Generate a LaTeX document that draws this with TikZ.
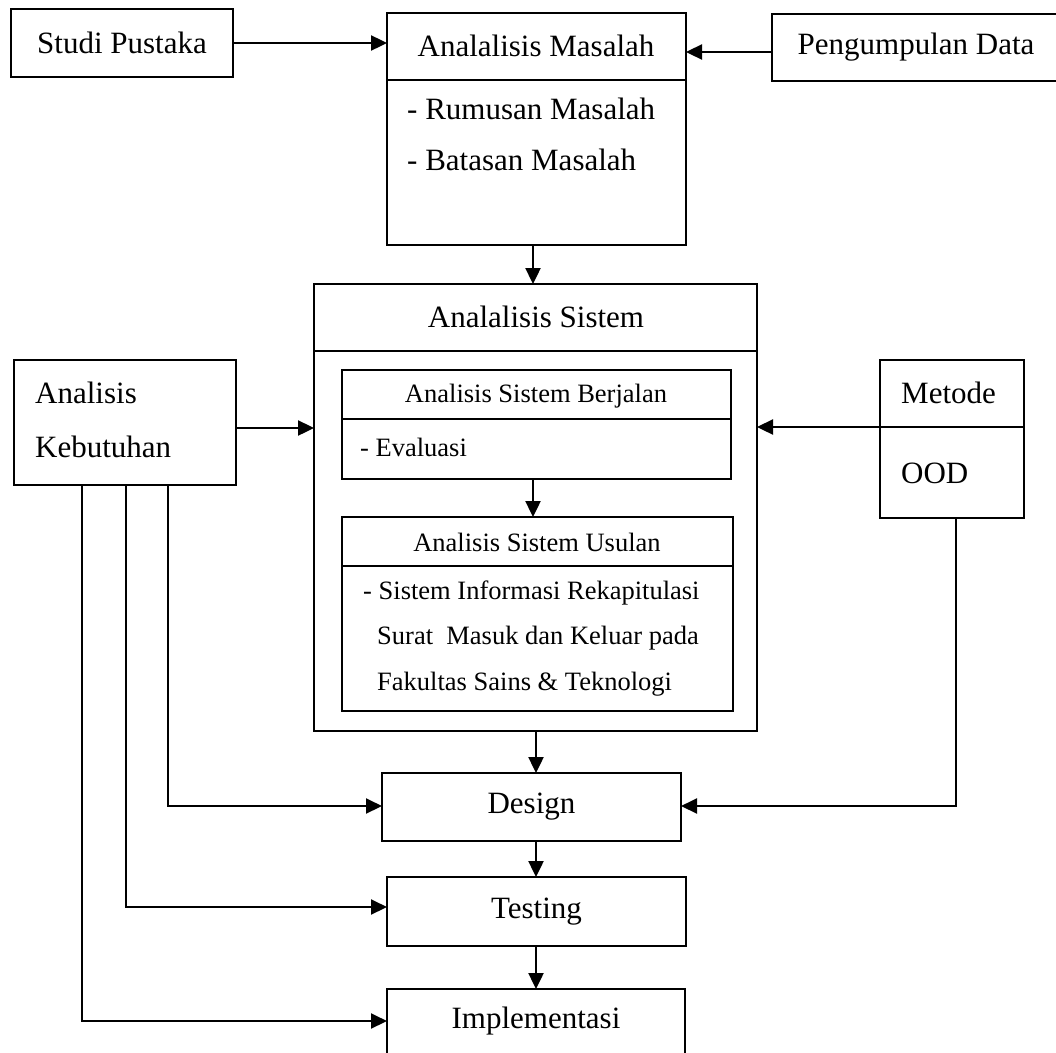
\documentclass[tikz,border=0pt]{standalone}
\usepackage{fontspec}
\setmainfont{Liberation Serif}
\usetikzlibrary{arrows.meta}
\begin{document}
\begin{tikzpicture}[x=1pt,y=-1pt,
  box/.style={draw, line width=2pt, anchor=north west, inner sep=0pt, outer sep=0pt},
  bigtxt/.style={font=\fontsize{31}{37}\selectfont, inner sep=0pt},
  smalltxt/.style={font=\fontsize{26.5}{32}\selectfont, inner sep=0pt},
  divider/.style={line width=2pt},
  arr/.style={line width=2.4pt, -{Triangle[length=16pt,width=15pt]}},
  feed/.style={line width=2pt, -{Triangle[length=16pt,width=15pt]}}]
\useasboundingbox (0,0) rectangle (1056,1052);
\fill[white] (0,0) rectangle (1056,1052);

% top row
\node[box, minimum width=222pt, minimum height=68pt] (studi) at (11,9) {};
\node[bigtxt] (studit) at (studi.center) {Studi Pustaka};

\node[box, minimum width=299pt, minimum height=232pt] (masalah) at (387,13) {};
\draw[divider] (387,80) -- (686,80);
\node[bigtxt] (masalaht) at (536,46) {Analalisis Masalah};
\node[bigtxt, anchor=west] (rumusan) at (407,109) {- Rumusan Masalah};
\node[bigtxt, anchor=west] (batasan) at (407,160) {- Batasan Masalah};

\node[box, minimum width=300pt, minimum height=67pt] (peng) at (772,14) {};
\node[bigtxt] (pengt) at (916,47) {Pengumpulan Data};

% sistem
\node[box, minimum width=443pt, minimum height=447pt] (sistem) at (314,284) {};
\draw[divider] (314,351) -- (757,351);
\node[bigtxt] (sistemt) at (536,317) {Analalisis Sistem};

\node[box, minimum width=389pt, minimum height=109pt] (berjalan) at (342,370) {};
\draw[divider] (342,419) -- (731,419);
\node[smalltxt] (berjalant) at (536,396) {Analisis Sistem Berjalan};
\node[smalltxt, anchor=west] (evaluasi) at (360,447) {- Evaluasi};

\node[box, minimum width=391pt, minimum height=194pt] (usulan) at (342,517) {};
\draw[divider] (342,566) -- (733,566);
\node[smalltxt] (usulant) at (537,542) {Analisis Sistem Usulan};
\node[smalltxt, anchor=west] (u1) at (363,593) {- Sistem Informasi Rekapitulasi};
\node[smalltxt, anchor=west] (u2) at (377,638) {Surat~ Masuk dan Keluar pada};
\node[smalltxt, anchor=west] (u3) at (377,684) {Fakultas Sains \& Teknologi};

% side boxes
\node[box, minimum width=222pt, minimum height=125pt] (keb) at (14,360) {};
\node[bigtxt, anchor=west] (kebt1) at (35,393) {Analisis};
\node[bigtxt, anchor=west] (kebt2) at (35,447) {Kebutuhan};

\node[box, minimum width=144pt, minimum height=158pt] (metode) at (880,360) {};
\draw[divider] (880,427) -- (1024,427);
\node[bigtxt, anchor=west] (metodet) at (901,393) {Metode};
\node[bigtxt, anchor=west] (ood) at (901,473) {OOD};

% lower chain
\node[box, minimum width=299pt, minimum height=68pt] (design) at (382,773) {};
\node[bigtxt] (designt) at (design.center) {Design};
\node[box, minimum width=299pt, minimum height=69pt] (testing) at (387,877) {};
\node[bigtxt] (testingt) at (testing.center) {Testing};
\node[box, minimum width=298pt, minimum height=80pt] (impl) at (387,989) {};
\node[bigtxt] (implt) at (536,1021) {Implementasi};

% connectors
\draw[arr] (studi.east) -- (masalah.west |- studi.east);
\draw[arr] (peng.west |- 0,52) -- (masalah.east |- 0,52);
\draw[arr] (masalah.south -| 533,0) -- (sistem.north -| 533,0);
\draw[arr] (keb.east |- 0,428) -- (sistem.west |- 0,428);
\draw[arr] (metode.west |- 0,427) -- (sistem.east |- 0,427);
\draw[arr] (berjalan.south -| 533,0) -- (usulan.north -| 533,0);
\draw[arr] (sistem.south -| 536,0) -- (design.north -| 536,0);
\draw[arr] (design.south -| 536,0) -- (testing.north -| 536,0);
\draw[arr] (testing.south -| 536,0) -- (impl.north -| 536,0);

\draw[feed] (keb.south -| 168,0) |- (design.west |- 0,806);
\draw[feed] (keb.south -| 126,0) |- (testing.west |- 0,907);
\draw[feed] (keb.south -| 82,0) |- (impl.west |- 0,1021);
\draw[feed] (metode.south -| 956,0) |- (design.east |- 0,806);
\end{tikzpicture}
\end{document}
